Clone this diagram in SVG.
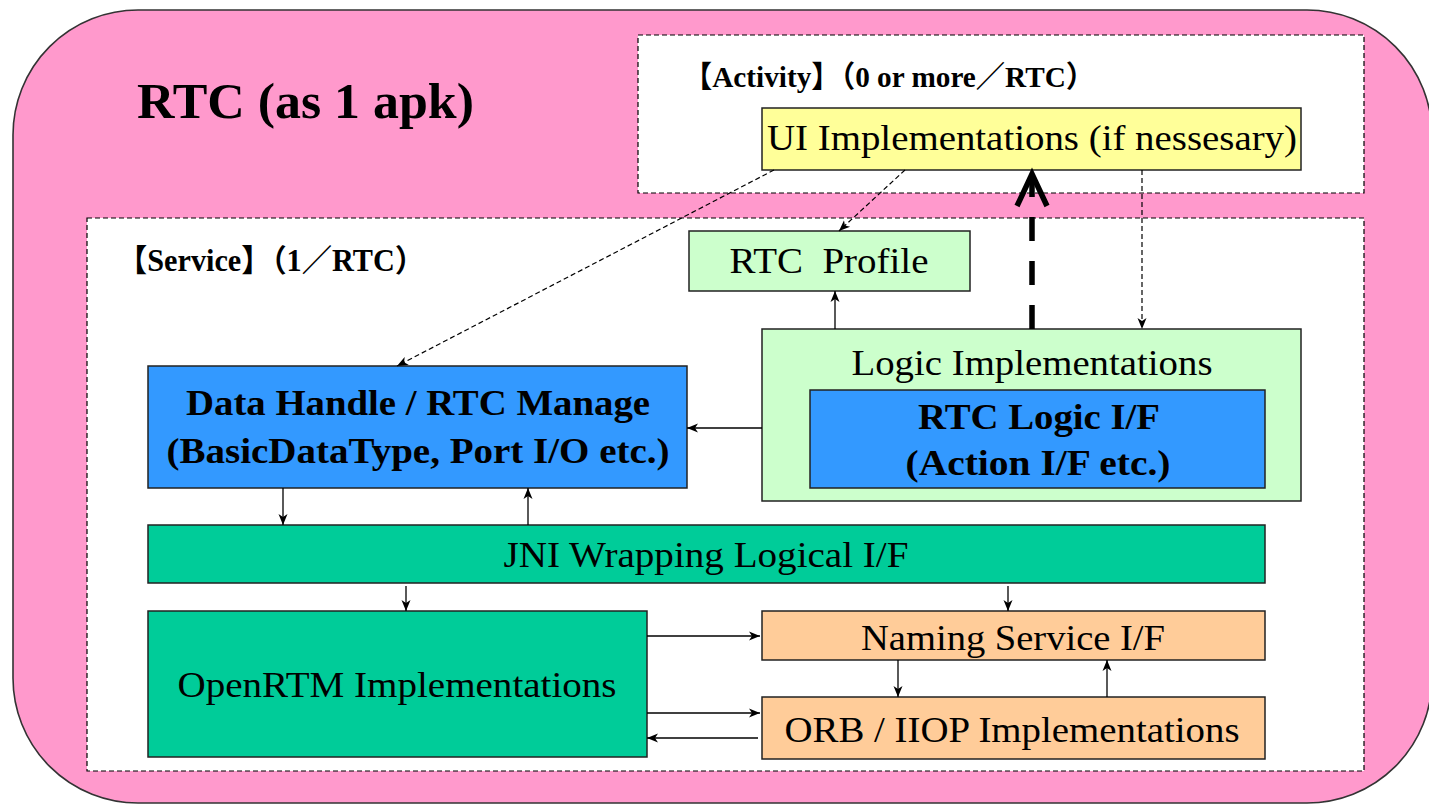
<svg xmlns="http://www.w3.org/2000/svg" width="1429" height="806" viewBox="0 0 1429 806">
<defs>
<style>
.t{font-family:"Liberation Serif","Times New Roman",serif;font-size:35px;fill:#000;text-anchor:middle}
.b{font-weight:bold}
.cj{font-family:"Liberation Serif","Noto Sans CJK JP",serif;font-weight:bold;font-size:30px;fill:#000}
.box{stroke:#222;stroke-width:1.5}
.dbox{fill:#fff;stroke:#000;stroke-width:1.2;stroke-dasharray:5 3}
.ln{stroke:#000;stroke-width:1.3;fill:none;marker-end:url(#ah)}
.dl{stroke:#000;stroke-width:1.2;fill:none;stroke-dasharray:5 3;marker-end:url(#ah)}
</style>
<marker id="ah" markerUnits="userSpaceOnUse" markerWidth="12" markerHeight="12" refX="11" refY="6" orient="auto">
<path d="M0,1.5 L11,6 L0,10.5 L3,6 z" fill="#000"/>
</marker>
</defs>
<rect id="outer" x="13" y="10" width="1419" height="793" rx="125" ry="125" fill="#ff99cc" stroke="#333" stroke-width="1.6"/>
<text id="title" x="137" y="118" class="t b" style="font-size:50px;text-anchor:start" textLength="337" lengthAdjust="spacingAndGlyphs">RTC (as 1 apk)</text>
<g id="activity">
<rect x="638" y="35" width="726" height="158" class="dbox"/>
<text x="683" y="87" class="cj" textLength="412" lengthAdjust="spacingAndGlyphs">【Activity】（0 or more／RTC）</text>
</g>
<g id="service">
<rect x="87" y="218" width="1277" height="553" class="dbox"/>
<text x="117" y="271" class="cj" style="font-size:31px" textLength="308" lengthAdjust="spacingAndGlyphs">【Service】（1／RTC）</text>
</g>
<g id="ui">
<rect x="762" y="108" width="539" height="62" fill="#ffff99" class="box"/>
<text x="1032" y="150" class="t" textLength="530" lengthAdjust="spacingAndGlyphs">UI Implementations (if nessesary)</text>
</g>
<g id="profile">
<rect x="689" y="231" width="281" height="60" fill="#ccffcc" class="box"/>
<text x="829" y="273" class="t" xml:space="preserve" style="white-space:pre" textLength="199" lengthAdjust="spacingAndGlyphs">RTC  Profile</text>
</g>
<g id="logic">
<rect x="762" y="329" width="539" height="172" fill="#ccffcc" class="box"/>
<text x="1032" y="375" class="t" textLength="361" lengthAdjust="spacingAndGlyphs">Logic Implementations</text>
</g>
<g id="rtclogic">
<rect x="810" y="390" width="455" height="98" fill="#3399ff" class="box"/>
<text x="1039" y="429" class="t b" textLength="242" lengthAdjust="spacingAndGlyphs">RTC Logic I/F</text>
<text x="1038" y="475" class="t b" textLength="265" lengthAdjust="spacingAndGlyphs">(Action I/F etc.)</text>
</g>
<g id="datahandle">
<rect x="148" y="366" width="539" height="122" fill="#3399ff" class="box"/>
<text x="418" y="415" class="t b" textLength="464" lengthAdjust="spacingAndGlyphs">Data Handle / RTC Manage</text>
<text x="418" y="463" class="t b" textLength="503" lengthAdjust="spacingAndGlyphs">(BasicDataType, Port I/O etc.)</text>
</g>
<g id="jni">
<rect x="148" y="525" width="1117" height="58" fill="#00cc99" class="box"/>
<text x="706" y="567" class="t" textLength="405" lengthAdjust="spacingAndGlyphs">JNI Wrapping Logical I/F</text>
</g>
<g id="openrtm">
<rect x="148" y="611" width="499" height="146" fill="#00cc99" class="box"/>
<text x="397" y="697" class="t" textLength="439" lengthAdjust="spacingAndGlyphs">OpenRTM Implementations</text>
</g>
<g id="naming">
<rect x="762" y="611" width="503" height="49" fill="#ffcc99" class="box"/>
<text x="1013" y="650" class="t" textLength="304" lengthAdjust="spacingAndGlyphs">Naming Service I/F</text>
</g>
<g id="orb">
<rect x="762" y="697" width="503" height="62" fill="#ffcc99" class="box"/>
<text x="1012" y="742" class="t" textLength="455" lengthAdjust="spacingAndGlyphs">ORB / IIOP Implementations</text>
</g>
<g id="connectors">
<line x1="774" y1="170" x2="397" y2="366" class="dl"/>
<line x1="905" y1="170" x2="839" y2="231" class="dl"/>
<line x1="1142" y1="170" x2="1142" y2="329" class="dl"/>
<line x1="1032" y1="329" x2="1032" y2="176" stroke="#000" stroke-width="5.5" stroke-dasharray="24 20"/>
<polyline points="1017,206 1032,174 1047,206" fill="none" stroke="#000" stroke-width="5.5" stroke-linejoin="miter"/>
<line x1="835" y1="329" x2="835" y2="291" class="ln"/>
<line x1="762" y1="428" x2="687" y2="428" class="ln"/>
<line x1="283" y1="488" x2="283" y2="525" class="ln"/>
<line x1="528" y1="525" x2="528" y2="488" class="ln"/>
<line x1="406" y1="586" x2="406" y2="611" class="ln"/>
<line x1="1008" y1="586" x2="1008" y2="611" class="ln"/>
<line x1="647" y1="636" x2="760" y2="636" class="ln"/>
<line x1="647" y1="713" x2="760" y2="713" class="ln"/>
<line x1="758" y1="738" x2="647" y2="738" class="ln"/>
<line x1="898" y1="660" x2="898" y2="697" class="ln"/>
<line x1="1107" y1="697" x2="1107" y2="660" class="ln"/>
</g>
</svg>
